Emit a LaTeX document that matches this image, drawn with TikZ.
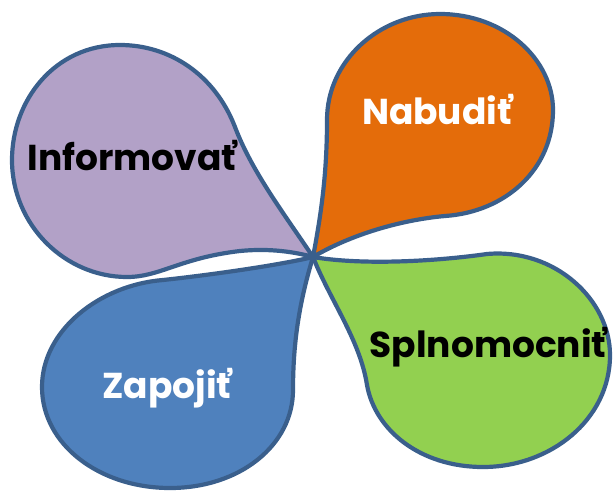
\documentclass[tikz,border=0pt]{standalone}
\usepackage{fontspec}
\newfontfamily\petalfont{Poppins}
\definecolor{petalline}{HTML}{3A5F8C}
\definecolor{lilac}{HTML}{B2A1C7}
\definecolor{tangerine}{HTML}{E46C0A}
\definecolor{leaf}{HTML}{92D050}
\definecolor{steel}{HTML}{4F81BD}
\tikzset{
  petal/.style={draw=petalline, line width=4.2pt, line join=round},
  word/.style={font=\petalfont\bfseries\fontsize{36}{40}\selectfont, inner sep=0pt}
}
\begin{document}
\begin{tikzpicture}[x=1pt,y=-1pt]
			\useasboundingbox (0,0) rectangle (613,490);
			\coordinate (tip) at (313,257);
			%Informovat petal
			\draw[petal, fill=lilac] (tip) .. controls (285,215) and (252,172) .. (235,127)
				.. controls (215,75) and (170,45) .. (120,45)
				.. controls (55,45) and (12,100) .. (12,160)
				.. controls (12,225) and (65,277) .. (127,277)
				.. controls (160,277) and (180,258) .. (240,251)
				.. controls (270,248) and (295,252) .. (tip) -- cycle;
			%Nabudit petal
			\draw[petal, fill=tangerine] (tip) .. controls (322,210) and (327,170) .. (327,120)
				.. controls (327,60) and (380,14) .. (440,14)
				.. controls (505,14) and (553,60) .. (553,110)
				.. controls (553,170) and (505,212) .. (445,216)
				.. controls (400,220) and (350,235) .. (tip) -- cycle;
			%Splnomocnit petal
			\draw[petal, fill=leaf] (tip) .. controls (360,265) and (430,262) .. (487,254)
				.. controls (555,248) and (610,300) .. (610,355)
				.. controls (610,420) and (550,467) .. (483,467)
				.. controls (420,467) and (375,430) .. (367,385)
				.. controls (360,340) and (330,300) .. (tip) -- cycle;
			%Zapojit petal
			\draw[petal, fill=steel] (tip) .. controls (280,265) and (210,275) .. (163,280)
				.. controls (100,285) and (42,330) .. (42,387)
				.. controls (42,445) and (100,488) .. (170,488)
				.. controls (240,488) and (293,445) .. (293,390)
				.. controls (293,340) and (300,300) .. (tip) -- cycle;
			%Labels
			\node[word, text=black] (inform) at (132,156) {Informovať};
			\node[word, text=white] (nabud) at (437,110) {Nabudiť};
			\node[word, text=black] (splnom) at (488,347) {Splnomocniť};
			\node[word, text=white] (zapoj) at (167,388) {Zapojiť};
\end{tikzpicture}
\end{document}
